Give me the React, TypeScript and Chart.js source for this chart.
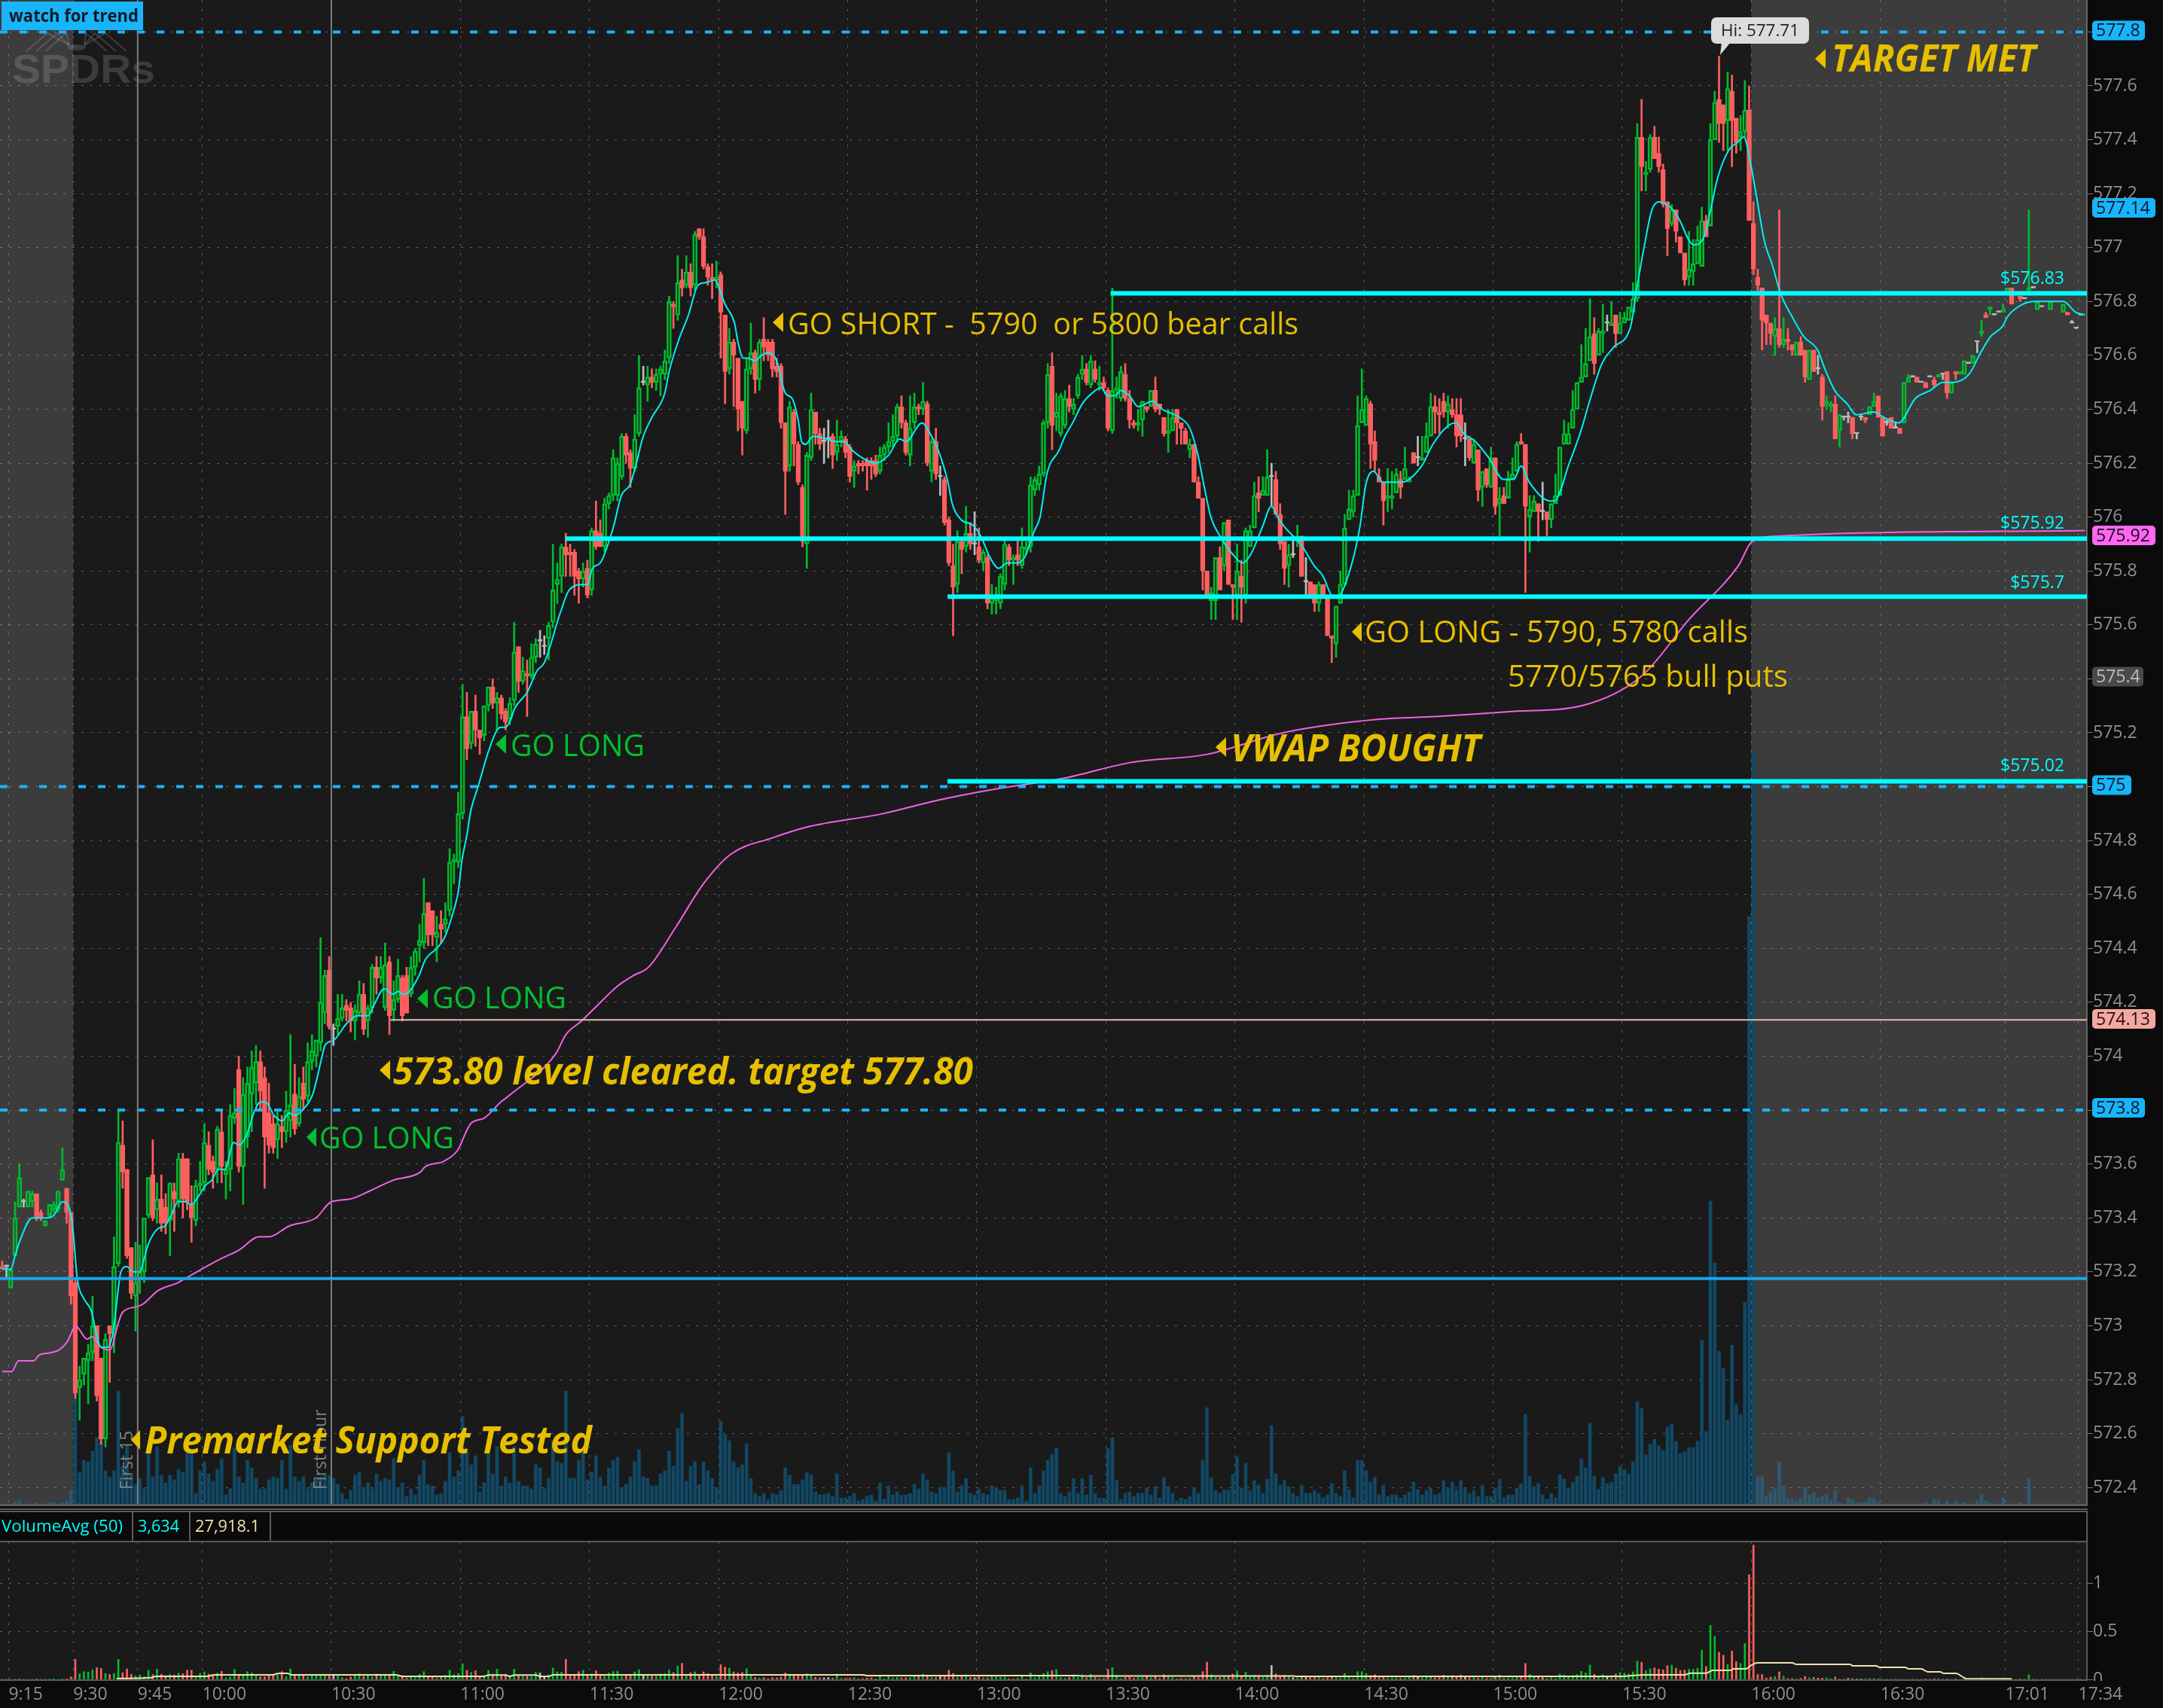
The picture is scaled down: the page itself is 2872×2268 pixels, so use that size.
import React, { useEffect, useRef } from "react";
import { Chart, registerables } from "chart.js";

Chart.register(...registerables);

// ---- data: one bar per minute, index 0 = first bar on the left ----
const opens = [
573.22,573.22,573.14,573.26,573.44,573.46,573.44,573.46,573.49,573.42,
573.37,573.41,573.43,573.43,573.54,573.51,573.42,573.16,572.77,572.82,
572.87,572.90,573.00,572.88,572.58,573.00,572.97,573.23,573.67,573.58,
573.29,573.11,573.17,573.20,573.41,573.56,573.43,573.47,573.44,573.39,
573.50,573.46,573.62,573.62,573.45,573.39,573.52,573.53,573.67,573.61,
573.58,573.72,573.56,573.58,573.77,573.95,573.59,573.70,573.86,573.90,
573.98,573.92,573.79,573.75,573.69,573.74,573.72,573.76,573.86,573.75,
573.90,573.85,573.98,574.00,574.05,574.16,574.32,574.10,574.11,574.14,
574.19,574.18,574.13,574.16,574.23,574.13,574.18,574.33,574.29,574.18,
574.35,574.17,574.21,574.29,574.30,574.23,574.33,574.41,574.42,574.57,
574.54,574.44,574.49,574.49,574.54,574.72,574.72,574.90,575.26,575.16,
575.28,575.21,575.19,575.30,575.37,575.31,575.33,575.28,575.25,575.32,
575.52,575.39,575.42,575.41,575.48,575.54,575.52,575.55,575.61,575.75,
575.78,575.89,575.87,575.87,575.80,575.77,575.81,575.73,575.95,575.94,
575.89,576.05,576.08,576.08,576.15,576.30,576.24,576.18,576.31,576.50,
576.49,576.52,576.50,576.53,576.53,576.59,576.79,576.75,576.88,576.86,
576.91,576.86,577.07,577.04,576.93,576.89,576.88,576.90,576.75,576.55,
576.65,576.59,576.43,576.32,576.55,576.61,576.51,576.66,576.65,576.65,
576.56,576.56,576.35,576.19,576.39,576.27,576.11,575.90,576.22,576.39,
576.31,576.28,576.29,576.30,576.24,576.28,576.29,576.26,576.17,576.20,
576.20,576.21,576.21,576.21,576.17,576.23,576.26,576.28,576.30,576.41,
576.35,576.23,576.35,576.41,576.40,576.42,576.17,576.28,576.15,576.14,
575.99,575.82,575.75,575.91,575.89,575.94,575.90,575.89,575.83,575.85,
575.68,575.69,575.68,575.75,575.89,575.84,575.86,575.82,575.88,575.89,
576.10,576.12,576.16,576.35,576.56,576.37,576.31,576.34,576.44,576.40,
576.45,576.53,576.55,576.49,576.55,576.49,576.50,576.47,576.32,576.47,
576.44,576.53,576.44,576.35,576.34,576.36,576.41,576.41,576.47,576.42,
576.37,576.31,576.32,576.40,576.35,576.32,576.25,576.27,576.13,576.07,
575.80,575.69,575.69,575.85,575.82,575.99,575.75,575.71,575.78,575.71,
575.89,575.96,576.09,576.08,576.08,576.15,576.14,576.01,575.91,575.82,
575.86,575.91,575.93,575.76,575.76,575.75,575.68,575.75,575.70,575.56,
575.53,575.68,575.75,575.99,576.02,576.08,576.35,576.34,576.42,576.28,
576.15,576.13,576.07,576.07,576.09,576.14,576.14,576.13,576.24,576.22,
576.21,576.24,576.30,576.41,576.39,576.43,576.39,576.40,576.38,576.38,
576.29,576.29,576.20,576.25,576.11,576.18,576.11,576.22,576.05,576.08,
576.07,576.14,576.17,576.28,576.27,576.00,576.02,576.05,576.02,576.02,
575.99,576.05,576.08,576.27,576.27,576.33,576.40,576.50,576.52,576.58,
576.68,576.60,576.68,576.72,576.71,576.75,576.68,576.72,576.73,576.76,
576.81,577.41,577.27,577.29,577.41,577.35,577.29,577.17,577.09,577.14,
577.04,576.98,576.89,576.91,576.94,576.93,577.10,577.08,577.40,577.55,
577.53,577.47,577.58,577.48,577.41,577.43,577.51,577.09,576.89,576.85,
576.75,576.72,576.67,576.70,576.64,576.66,576.64,576.60,576.65,576.62,
576.51,576.62,576.55,576.52,576.42,576.41,576.42,576.32,576.37,576.37,
576.37,576.31,576.37,576.37,576.38,576.41,576.45,576.37,576.35,576.37,
576.33,576.33,576.35,576.50,576.52,576.52,576.50,576.50,576.52,576.51,
576.52,576.53,576.54,576.46,576.54,576.53,576.53,576.57,576.57,576.65,
576.68,576.75,576.77,576.75,576.76,576.76,576.84,576.85,null,576.82,
576.81,576.84,576.85,576.77,576.78,null,576.77,null,null,576.76,
576.76,576.72,576.70,576.75,null];

const highs = [
573.24,573.22,573.21,573.46,573.60,573.47,573.50,573.50,573.49,573.43,
573.39,573.45,573.46,573.50,573.66,573.51,573.42,573.17,572.85,572.88,
572.93,573.11,573.00,572.88,572.97,573.00,573.33,573.80,573.76,573.58,
573.29,573.31,573.30,573.40,573.55,573.69,573.53,573.56,573.49,573.53,
573.53,573.64,573.64,573.62,573.52,573.54,573.61,573.75,573.72,573.63,
573.74,573.80,573.61,573.82,573.88,574.00,573.92,573.96,574.02,574.04,
574.02,573.96,573.90,573.78,573.80,573.78,573.87,574.08,573.97,573.92,
573.96,574.05,574.08,574.06,574.44,574.32,574.37,574.12,574.23,574.23,
574.21,574.20,574.19,574.28,574.27,574.19,574.34,574.37,574.37,574.42,
574.37,574.28,574.36,574.30,574.33,574.37,574.40,574.49,574.66,574.57,
574.54,574.52,574.54,574.57,574.77,574.75,574.98,575.38,575.35,575.28,
575.34,575.21,575.30,575.37,575.40,575.35,575.34,575.29,575.33,575.61,
575.52,575.48,575.47,575.53,575.55,575.58,575.56,575.61,575.90,575.83,
575.90,575.94,575.90,575.88,575.81,575.83,575.84,575.96,576.06,575.99,
576.07,576.09,576.25,576.22,576.31,576.31,576.25,576.38,576.60,576.56,
576.56,576.55,576.55,576.56,576.62,576.82,576.80,576.97,576.92,576.97,
576.94,577.06,577.07,577.07,576.94,576.94,576.95,576.91,576.75,576.70,
576.66,576.59,576.43,576.59,576.72,576.62,576.66,576.74,576.66,576.66,
576.59,576.57,576.35,576.43,576.40,576.28,576.12,576.24,576.46,576.39,
576.33,576.33,576.36,576.31,576.36,576.32,576.30,576.27,576.21,576.21,
576.21,576.22,576.22,576.23,576.26,576.27,576.35,576.38,576.42,576.45,
576.36,576.45,576.46,576.42,576.50,576.43,576.29,576.33,576.19,576.15,
576.00,575.90,575.95,575.92,576.04,575.98,576.02,575.96,575.88,575.86,
575.75,575.74,575.79,575.92,575.90,575.86,575.92,575.96,575.91,576.15,
576.15,576.19,576.36,576.57,576.61,576.46,576.46,576.47,576.49,576.44,
576.53,576.60,576.57,576.60,576.58,576.56,576.52,576.48,576.85,576.52,
576.56,576.57,576.47,576.36,576.40,576.43,576.41,576.47,576.52,576.42,
576.37,576.40,576.40,576.40,576.35,576.33,576.29,576.27,576.15,576.07,
575.80,575.74,575.85,575.89,575.98,575.99,575.75,575.90,575.84,575.96,
575.97,576.13,576.15,576.15,576.25,576.20,576.17,576.05,575.91,575.90,
575.93,575.97,575.93,575.85,575.76,575.75,575.76,575.75,575.70,575.56,
575.67,575.80,576.01,576.10,576.10,576.45,576.55,576.45,576.43,576.32,
576.18,576.13,576.18,576.17,576.18,576.17,576.26,576.15,576.24,576.30,
576.30,576.35,576.46,576.45,576.44,576.46,576.45,576.44,576.44,576.44,
576.35,576.30,576.29,576.25,576.17,576.18,576.26,576.22,576.11,576.11,
576.17,576.22,576.28,576.31,576.27,576.08,576.08,576.05,576.13,576.02,
576.05,576.16,576.26,576.36,576.35,576.47,576.50,576.64,576.70,576.81,
576.74,576.70,576.79,576.75,576.80,576.75,576.76,576.76,576.78,576.87,
577.46,577.55,577.32,577.42,577.45,577.41,577.31,577.17,577.16,577.14,
577.04,576.98,577.06,577.03,577.08,577.15,577.12,577.46,577.58,577.71,
577.53,577.65,577.64,577.48,577.49,577.62,577.60,577.17,576.92,576.85,
576.75,576.72,576.74,577.14,576.74,576.70,576.64,576.65,576.67,576.62,
576.62,576.62,576.60,576.53,576.45,576.43,576.45,576.38,576.37,576.39,
576.37,576.31,576.38,576.37,576.41,576.46,576.45,576.37,576.36,576.37,
576.35,576.33,576.50,576.53,576.52,576.52,576.50,576.50,576.52,576.52,
576.53,576.53,576.54,576.50,576.54,576.54,576.58,576.57,576.60,576.65,
576.73,576.76,576.78,576.75,576.76,576.79,576.85,576.85,null,576.82,
576.81,577.14,576.85,576.80,576.78,null,576.80,null,null,576.79,
576.76,576.73,576.70,576.75,null];

const lows = [
573.21,573.18,573.14,573.26,573.44,573.44,573.44,573.44,573.39,573.39,
573.37,573.40,573.42,573.42,573.54,573.38,573.08,572.73,572.65,572.78,
572.71,572.87,572.72,572.56,572.55,572.79,572.90,573.22,573.51,573.25,
573.10,572.98,573.12,573.16,573.40,573.39,573.38,573.35,573.34,573.26,
573.35,573.44,573.40,573.43,573.31,573.37,573.50,573.50,573.56,573.51,
573.53,573.53,573.47,573.50,573.75,573.57,573.45,573.66,573.72,573.82,
573.80,573.51,573.64,573.64,573.62,573.66,573.68,573.70,573.71,573.74,
573.80,573.83,573.95,573.96,574.02,574.12,574.10,574.04,574.08,574.13,
574.13,574.09,574.06,574.15,574.08,574.07,574.16,574.23,574.27,574.17,
574.08,574.13,574.20,574.13,574.16,574.22,574.30,574.35,574.40,574.41,
574.41,574.35,574.42,574.46,574.52,574.64,574.70,574.88,575.10,575.14,
575.15,575.12,575.17,575.28,575.29,575.21,575.25,575.21,575.23,575.30,
575.35,575.38,575.26,575.40,575.46,575.48,575.49,575.47,575.59,575.68,
575.72,575.78,575.78,575.71,575.68,575.74,575.70,575.71,575.88,575.89,
575.87,576.03,576.06,576.06,576.14,576.20,576.11,576.17,576.30,576.49,
576.43,576.48,576.47,576.45,576.51,576.57,576.70,576.73,576.82,576.85,
576.82,576.84,577.03,576.92,576.86,576.81,576.85,576.59,576.42,576.53,
576.41,576.32,576.23,576.31,576.53,576.46,576.47,576.58,576.58,576.52,
576.52,576.33,576.01,576.17,576.19,576.12,575.89,575.81,576.21,576.27,
576.25,576.20,576.22,576.18,576.21,576.26,576.22,576.13,576.11,576.16,
576.17,576.10,576.14,576.15,576.16,576.21,576.24,576.26,576.28,576.33,
576.23,576.19,576.33,576.38,576.38,576.19,576.13,576.14,576.08,575.97,
575.82,575.56,575.72,575.79,575.87,575.88,575.86,575.83,575.80,575.66,
575.64,575.64,575.66,575.73,575.82,575.75,575.82,575.81,575.86,575.87,
576.08,576.10,576.15,576.33,576.25,576.32,576.30,576.33,576.39,576.38,
576.44,576.51,576.49,576.48,576.50,576.47,576.47,576.32,576.31,576.44,
576.43,576.43,576.33,576.33,576.32,576.30,576.39,576.41,576.39,576.38,
576.30,576.24,576.32,576.27,576.27,576.27,576.22,576.13,576.07,575.73,
575.71,575.62,575.62,575.73,575.80,575.75,575.62,575.62,575.61,575.68,
575.89,575.96,576.02,576.08,576.08,576.04,576.01,575.88,575.75,575.74,
575.85,575.89,575.78,575.71,575.70,575.65,575.65,575.70,575.56,575.46,
575.48,575.68,575.75,575.99,576.00,576.08,576.35,576.34,576.18,576.17,
576.13,575.97,576.02,576.03,576.09,576.07,576.14,576.13,576.20,576.19,
576.21,576.24,576.30,576.31,576.31,576.37,576.33,576.37,576.26,576.28,
576.19,576.21,576.20,576.06,576.04,576.11,576.11,576.01,575.93,576.05,
576.07,576.14,576.17,576.27,575.72,575.87,576.02,575.91,575.99,575.93,
575.96,576.05,576.08,576.27,576.27,576.33,576.40,576.50,576.52,576.58,
576.53,576.60,576.61,576.69,576.71,576.63,576.68,576.72,576.73,576.76,
576.80,577.21,577.21,577.28,577.33,577.28,577.15,576.97,577.08,577.02,
576.98,576.86,576.86,576.86,576.94,576.93,577.04,577.08,577.40,577.39,
577.36,577.36,577.30,577.35,577.36,577.41,577.10,576.90,576.84,576.62,
576.64,576.64,576.60,576.63,576.63,576.62,576.60,576.60,576.60,576.50,
576.51,576.54,576.53,576.36,576.40,576.39,576.29,576.26,576.36,576.35,
576.29,576.29,576.36,576.35,576.38,576.41,576.37,576.30,576.34,576.33,
576.33,576.31,576.35,576.50,576.52,576.50,576.50,576.48,576.52,576.48,
576.52,576.51,576.44,576.46,576.51,576.53,576.53,576.57,576.57,576.61,
576.67,576.74,576.75,576.75,576.76,576.76,576.84,576.79,null,576.80,
576.81,576.84,576.85,576.77,576.78,null,576.77,null,null,576.76,
576.75,576.72,576.70,576.75,null];

const closes = [
573.21,573.22,573.21,573.40,573.55,573.46,573.50,573.49,573.40,573.40,
573.39,573.45,573.45,573.50,573.58,573.42,573.11,572.75,572.80,572.88,
572.90,573.00,572.74,572.58,572.95,572.97,573.22,573.68,573.57,573.26,
573.12,573.16,573.20,573.40,573.55,573.40,573.47,573.38,573.38,573.53,
573.47,573.62,573.47,573.46,573.40,573.52,573.53,573.68,573.58,573.57,
573.73,573.59,573.58,573.78,573.79,573.59,573.86,573.90,573.96,573.98,
573.87,573.70,573.67,573.66,573.75,573.72,573.80,573.82,573.73,573.85,
573.84,573.98,574.02,574.06,574.20,574.30,574.11,574.10,574.14,574.18,
574.17,574.13,574.17,574.23,574.10,574.18,574.33,574.29,574.33,574.34,
574.15,574.21,574.30,574.15,574.16,574.33,574.39,574.43,574.53,574.45,
574.45,574.46,574.47,574.51,574.72,574.73,574.90,575.26,575.14,575.28,
575.21,575.18,575.30,575.37,575.31,575.33,575.27,575.24,575.31,575.50,
575.39,575.43,575.41,575.48,575.53,575.54,575.52,575.60,575.73,575.77,
575.89,575.86,575.86,575.78,575.77,575.80,575.71,575.95,575.89,575.89,
576.05,576.08,576.22,576.20,576.30,576.23,576.18,576.29,576.48,576.50,
576.52,576.50,576.53,576.55,576.58,576.80,576.78,576.87,576.85,576.91,
576.85,577.05,577.04,576.93,576.89,576.88,576.89,576.76,576.54,576.65,
576.60,576.40,576.33,576.55,576.61,576.51,576.65,576.63,576.60,576.55,
576.54,576.35,576.17,576.41,576.27,576.13,575.91,576.23,576.40,576.31,
576.27,576.28,576.29,576.23,576.27,576.30,576.24,576.15,576.19,576.19,
576.19,576.19,576.19,576.16,576.23,576.26,576.28,576.30,576.41,576.35,
576.24,576.33,576.41,576.40,576.43,576.20,576.28,576.16,576.15,575.98,
575.83,575.74,575.91,575.88,575.94,575.90,575.90,575.84,575.87,575.68,
575.70,575.70,575.78,575.90,575.84,575.85,575.84,575.89,575.89,576.12,
576.14,576.16,576.35,576.53,576.34,576.39,576.45,576.44,576.41,576.42,
576.52,576.55,576.50,576.58,576.51,576.50,576.48,576.33,576.47,576.48,
576.54,576.44,576.36,576.34,576.35,576.43,576.40,576.47,576.40,576.40,
576.31,576.32,576.37,576.35,576.33,576.27,576.27,576.13,576.07,575.80,
575.71,575.72,575.85,575.73,575.98,575.75,575.74,575.80,575.74,575.95,
575.95,576.08,576.07,576.10,576.15,576.15,576.01,575.90,575.81,575.86,
575.86,575.93,575.78,575.76,575.70,575.68,575.75,575.70,575.56,575.55,
575.67,575.75,575.96,576.03,576.08,576.34,576.40,576.44,576.27,576.21,
576.13,576.06,576.08,576.08,576.16,576.11,576.18,576.14,576.20,576.22,
576.22,576.30,576.41,576.39,576.38,576.39,576.42,576.38,576.30,576.30,
576.29,576.22,576.27,576.10,576.17,576.12,576.22,576.04,576.07,576.05,
576.14,576.16,576.27,576.27,576.04,576.03,576.06,576.02,576.02,575.99,
576.05,576.08,576.26,576.31,576.31,576.40,576.50,576.52,576.57,576.67,
576.57,576.69,576.69,576.72,576.72,576.68,576.72,576.74,576.78,576.81,
577.41,577.30,577.28,577.41,577.33,577.30,577.16,577.07,577.14,577.06,
576.98,576.88,576.92,576.94,577.03,577.10,577.04,577.40,577.54,577.46,
577.46,577.59,577.47,577.39,577.43,577.51,577.10,576.92,576.86,576.73,
576.72,576.68,576.70,576.64,576.66,576.65,576.62,576.65,576.60,576.52,
576.62,576.54,576.55,576.41,576.43,576.42,576.29,576.38,576.37,576.37,
576.31,576.31,576.37,576.36,576.41,576.43,576.37,576.30,576.35,576.33,
576.33,576.31,576.50,576.52,576.52,576.50,576.50,576.48,576.52,576.49,
576.53,576.53,576.46,576.50,576.53,576.54,576.58,576.57,576.60,576.65,
576.69,576.74,576.78,576.75,576.76,576.77,576.85,576.79,null,576.81,
576.81,576.85,576.85,576.80,576.78,null,576.80,null,null,576.79,
576.75,576.72,576.70,576.75,null];

// volume per bar in lots of 1,393 shares
const SHARES_PER_LOT = 1393;
const volumeLots = [
0,0,0,3,5,0,0,0,2,0,0,2,2,0,2,4,18,150,42,58,
56,70,88,82,44,36,44,150,50,78,38,26,34,20,68,36,76,38,28,38,
32,46,42,68,68,14,44,56,40,30,46,60,12,20,74,36,28,58,48,34,
20,20,32,36,34,58,20,78,36,30,36,20,28,36,36,38,38,34,26,14,
6,18,38,42,22,28,20,40,30,34,32,60,22,28,10,20,12,38,58,26,
24,12,14,30,68,36,44,116,68,52,64,16,28,66,40,76,24,36,28,76,
30,24,24,20,52,48,20,34,84,56,54,150,34,34,58,68,32,42,64,36,
24,48,58,62,22,26,36,56,72,36,34,24,24,40,44,70,50,100,120,30,
50,56,26,56,44,34,22,110,92,84,56,48,52,80,34,14,10,14,6,14,
12,18,48,38,26,26,32,42,38,16,12,12,14,10,40,8,8,10,14,4,
6,10,12,4,28,6,24,12,16,12,12,14,26,20,40,32,16,14,22,22,
68,44,16,24,34,14,12,20,14,12,24,22,18,18,6,6,8,24,4,48,
14,24,44,58,66,74,14,10,16,34,14,34,12,38,14,8,8,74,88,31,
6,14,16,10,14,14,21,12,23,8,35,23,14,4,8,6,10,21,14,58,
128,35,18,14,19,19,39,63,21,54,18,31,25,14,33,104,40,25,31,23,
14,10,25,14,14,18,14,8,12,27,14,10,44,19,8,58,58,44,29,35,
12,25,10,12,12,8,12,16,29,19,12,18,21,12,14,31,21,29,19,31,
21,14,18,10,25,10,10,21,33,8,12,12,21,27,119,37,23,27,12,6,
14,8,39,33,21,29,37,60,48,107,37,19,35,27,29,40,50,46,40,56,
136,127,65,79,86,77,71,102,106,83,67,69,75,75,83,217,96,402,320,203,
180,111,211,132,119,268,780,1000,36,36,11,16,20,56,24,7,7,4,8,22,
12,15,8,10,12,5,18,2,0,8,6,2,2,3,8,7,2,0,0,0,
0,0,0,0,0,0,0,2,0,6,5,0,4,0,4,0,2,0,0,4,
12,4,2,0,0,8,0,0,0,2,0,34,0,0,0,0,0,0,0,0,
0,0,0,0,0];

// moving average
const emaBars = [0,2,3,4,7,10,12,14,15.5,16.3,17.5,19,20.6,23,24.5,25.7,26.5,27.6,29,30.4,32,33,33.9,36.2,37.8,39.3,40.9,42.5,44,45.6,47.2,48.7,50.3,51.8,53.8,55,56.9,58.5,60,61.2,63.2,65.1,66.7,67.9,69.8,72.2,74.5,75,77.1,80,82.6,85,86.4,88.8,90.8,92.1,93.1,94.6,96.9,98.4,101,102.8,105.1,106,106.8,108,108.9,110.6,113,115,115.9,117,118.2,119.1,122,124.3,126,129.6,131.8,135,136,137.2,139,142,143.9,145.9,147.4,148.8,151,154,155,157.3,159.5,161.7,163.5,165.8,166.6,168,170.2,171,172.2,173.3,175,176.5,178,180,182,183.6,185,185.8,186.7,188.5,191.6,193.9,195.7,197.4,201,203,206,208.6,210,213.8,215.3,217.5,219.8,220.8,222.9,225.6,227.4,229.6,231.6,233.6,235.8,237.6,239.9,241.2,242.8,245.7,247,248.8,251,253.3,255.5,256.8,258.6,260,262,264,267.4,269.6,273.6,276,277.9,279.4,280.9,283,286.1,288.3,290.1,292.8,295,296.4,298.2,300,302.2,304.9,307,308.9,310.2,311.6,314.2,315.6,316.9,318.7,320.9,323.2,325.4,329.9,332.5,336.1,337.9,339.7,342.4,345.5,348.9,351.3,353,354.9,359.8,360.7,364.2,366.9,369.1,371.8,374.5,378.5,379.7,381.8,383.4,385,386.7,388.3,389.9,391.9,393.1,395.5,396.9,398.7,401.2,403.2,404.8,406,407.6,409.6,411.3,413.3,416.1,418.7,421.9,423.6,425.9,428.8,430.9,435,437.3,440.8,444.6,448.1,451,453.3,457.1,459.8,462.1,465,465.9,468.5,472.3,479,481.9,484];
const emaPrices = [573.21,573.21,573.26,573.31,573.40,573.40,573.41,573.46,573.44,573.38,573.17,573.10,573.06,572.92,572.92,572.97,573.07,573.20,573.22,573.20,573.20,573.25,573.30,573.36,573.37,573.41,573.46,573.46,573.45,573.48,573.52,573.54,573.58,573.58,573.68,573.67,573.71,573.79,573.83,573.83,573.78,573.76,573.79,573.78,573.80,573.86,574.01,574.04,574.06,574.12,574.15,574.15,574.19,574.25,574.23,574.24,574.23,574.24,574.30,574.36,574.40,574.44,574.55,574.61,574.72,574.82,574.91,575.00,575.13,575.21,575.22,575.22,575.25,575.29,575.35,575.43,575.46,575.64,575.73,575.75,575.75,575.81,575.83,575.96,576.08,576.12,576.20,576.29,576.37,576.46,576.54,576.66,576.75,576.86,576.87,576.88,576.85,576.79,576.72,576.65,576.59,576.59,576.58,576.60,576.61,576.58,576.46,576.44,576.36,576.28,576.27,576.30,576.29,576.28,576.28,576.25,576.21,576.20,576.23,576.29,576.28,576.35,576.32,576.25,576.13,576.05,575.99,575.97,575.93,575.85,575.81,575.83,575.83,575.85,575.95,576.00,576.16,576.25,576.30,576.35,576.42,576.46,576.48,576.45,576.45,576.47,576.45,576.41,576.43,576.40,576.37,576.33,576.23,576.11,576.00,575.93,575.86,575.83,575.86,575.96,576.04,576.00,575.96,575.93,575.89,575.82,575.78,575.71,575.70,575.73,575.86,575.97,576.12,576.17,576.13,576.13,576.13,576.19,576.27,576.34,576.35,576.31,576.28,576.22,576.14,576.14,576.19,576.13,576.06,576.06,576.20,576.32,576.44,576.57,576.63,576.71,576.83,577.02,577.14,577.17,577.16,577.14,577.10,577.03,577.01,577.04,577.13,577.26,577.36,577.39,577.41,577.34,577.20,577.02,576.94,576.83,576.74,576.67,576.62,576.55,576.47,576.42,576.38,576.39,576.37,576.35,576.44,576.47,576.50,576.50,576.53,576.61,576.67,576.71,576.74,576.78,576.80,576.80,576.76,576.75];

// VWAP
const vwapBars = [0,2.2,3.8,7.3,8.5,11.2,13.2,15.1,16,17,19.8,20.8,23,24.9,25.7,26.8,28,31.1,32.7,36.2,40.9,43.1,47.5,51,55,59.7,62,66.7,72.9,76.5,80.8,85.4,90.9,97.2,98.3,102.6,105.8,108.9,112,115.9,118.3,128.7,131,134.6,137.8,143,146.8,150.2,156.6,163,169.4,179,187,204.7,217.5,230.3,246.4,262.4,280,297.7,320,333,352,367,381,392,403.5,406.7,413,484];
const vwapPrices = [572.83,572.83,572.87,572.87,572.89,572.90,572.91,572.94,572.97,573.00,572.95,572.96,572.92,572.91,572.93,573.00,573.05,573.07,573.08,573.13,573.16,573.18,573.22,573.25,573.28,573.33,573.33,573.37,573.40,573.46,573.47,573.50,573.54,573.57,573.59,573.61,573.65,573.75,573.77,573.83,573.86,574.01,574.08,574.13,574.18,574.26,574.30,574.33,574.48,574.64,574.75,574.81,574.85,574.90,574.95,574.99,575.03,575.09,575.12,575.20,575.25,575.26,575.28,575.30,575.41,575.62,575.82,575.91,575.93,575.95];

// 50-bar volume average, lower pane
const volAvgBars = [26.6,34.7,35.7,47.7,49.2,62.8,64.3,66.3,67.3,91.5,93,112,113,117,118,119,124,125,127,128,200,201,250,251,300,301,375.8,381.8,391,392.3,396,397.5,401.6,402.4,405.2,406.8,408,416,417,429.4,430.2,435.5,436.3,442.3,443,446,447.5,450.4,451.2,454,456.7,467];
const volAvgValues = [0.01,0.018,0.031,0.031,0.047,0.047,0.062,0.062,0.047,0.047,0.031,0.031,0.044,0.044,0.031,0.044,0.044,0.031,0.031,0.047,0.047,0.04,0.04,0.035,0.035,0.031,0.031,0.047,0.047,0.065,0.065,0.094,0.094,0.109,0.109,0.156,0.172,0.172,0.156,0.156,0.14,0.14,0.125,0.125,0.109,0.109,0.078,0.078,0.062,0.062,0.005,0.005];

const priceTicks = [572.4,572.6,572.8,573,573.2,573.4,573.6,573.8,574,574.2,574.4,574.6,574.8,575,575.2,575.4,575.6,575.8,576,576.2,576.4,576.6,576.8,577,577.2,577.4,577.6,577.8];
const ratioTicks = [0,0.5,1];
const timeTickBars = [2,17,32,47,77,107,137,167,197,227,257,287,317,347,377,407,437,466,483];
const timeTickLabels = ["9:15","9:30","9:45","10:00","10:30","11:00","11:30","12:00","12:30","13:00","13:30","14:00","14:30","15:00","15:30","16:00","16:30","17:01","17:34"];

const levelPrices = [577.8,575,573.8,573.175,576.83,575.92,575.705,575.02,574.135];
const levelStartBars = [-0.5,-0.5,-0.5,-0.5,257.6,130.9,219.7,219.7,90.2];

const FIRST_BAR = -0.5;
const LAST_BAR = 484.5;
const SESSION_OPEN_BAR = 16.5;
const SESSION_CLOSE_BAR = 406.5;
const firstFifteenBar = 31.5;
const firstHourBar = 76.5;

// ---- styling ----
const UP = "#00bb2e";
const DOWN = "#ff5f5f";
const DOJI = "#bdbdbd";
const BLUE = "#19b4fa";
const CYAN = "#00ffff";
const YELLOW = "#e6bf00";
const NOTE_GREEN = "#00c030";
const GRID = "#5f5f5f";
const TICK_TEXT = "#8f8f8f";
const AXIS = "#5a5a5a";
const SANS = '"Open Sans"';
const PLOT_RIGHT_WIDTH = 101;

const candleColor = (i: number) =>
  closes[i] > opens[i] ? UP : closes[i] < opens[i] ? DOWN : DOJI;
const valid = (i: number) => opens[i] != null;
const barIndexes = opens.map((_, i) => i).filter(valid);

const noPadding = (s: any) => {
  s.paddingTop = 0;
  s.paddingBottom = 0;
  s.paddingLeft = 0;
  s.paddingRight = 0;
};

const timeScale = (showLabels: boolean, height: number) => ({
  type: "linear",
  min: FIRST_BAR,
  max: LAST_BAR,
  offset: false,
  afterBuildTicks: (s: any) => {
    s.ticks = timeTickBars.map((k) => ({ value: k - 0.5 }));
  },
  afterFit: (s: any) => {
    s.height = height;
    noPadding(s);
  },
  border: { display: false, dash: [3, 9] },
  grid: { offset: false, color: GRID, lineWidth: 1, drawTicks: false },
  ticks: {
    display: showLabels,
    autoSkip: false,
    maxRotation: 0,
    minRotation: 0,
    align: "start",
    padding: 7,
    color: TICK_TEXT,
    font: { family: SANS, size: 23 },
    callback: (v: number) => timeTickLabels[timeTickBars.indexOf(v + 0.5)] ?? "",
  },
});

const fitText = (
  ctx: CanvasRenderingContext2D,
  text: string,
  x: number,
  y: number,
  width: number,
  font: string,
  color: string
) => {
  ctx.save();
  ctx.font = font;
  ctx.fillStyle = color;
  ctx.textAlign = "left";
  ctx.textBaseline = "alphabetic";
  const w = ctx.measureText(text).width;
  ctx.translate(x, y);
  ctx.scale(width / w, 1);
  ctx.fillText(text, 0, 0);
  ctx.restore();
};

const marker = (ctx: CanvasRenderingContext2D, x0: number, x1: number, cy: number, half: number, color: string) => {
  ctx.fillStyle = color;
  ctx.beginPath();
  ctx.moveTo(x1, cy - half);
  ctx.lineTo(x1, cy + half);
  ctx.lineTo(x0, cy);
  ctx.closePath();
  ctx.fill();
};

const tag = (ctx: CanvasRenderingContext2D, text: string, x: number, cy: number, w: number, bg: string, fg: string) => {
  ctx.fillStyle = bg;
  ctx.beginPath();
  (ctx as any).roundRect(x, cy - 13, w, 26, 5);
  ctx.fill();
  ctx.fillStyle = fg;
  ctx.font = `23px ${SANS}`;
  ctx.textAlign = "left";
  ctx.textBaseline = "middle";
  ctx.fillText(text, x + 5, cy + 1);
};

const BOLD = `italic 700 51px ${SANS}`;
const REG = `400 41px ${SANS}`;
const notes: [string, number, number, number, string, string, number, number, number][] = [
  ["Premarket Support Tested", 192, 1930, 594, BOLD, YELLOW, 174, 186, 1912],
  ["573.80 level cleared. target 577.80", 522, 1440, 770, BOLD, YELLOW, 504, 518, 1421],
  ["TARGET MET", 2432, 95, 271, BOLD, YELLOW, 2410, 2424, 78],
  ["VWAP BOUGHT", 1634, 1011, 332, BOLD, YELLOW, 1614, 1628, 992],
  ["GO SHORT -  5790  or 5800 bear calls", 1046, 444, 678, REG, YELLOW, 1026, 1040, 428],
  ["GO LONG - 5790, 5780 calls", 1812, 853, 509, REG, YELLOW, 1795, 1808, 839],
  ["5770/5765 bull puts", 2002, 912, 372, REG, YELLOW, 0, 0, 0],
  ["GO LONG", 678, 1004, 178, REG, NOTE_GREEN, 658, 672, 988],
  ["GO LONG", 574, 1339, 178, REG, NOTE_GREEN, 554, 568, 1326],
  ["GO LONG", 424, 1525, 179, REG, NOTE_GREEN, 407, 420, 1510],
];

const overlayMain = {
  id: "overlayMain",
  beforeDatasetsDraw(chart: any) {
    const { ctx, chartArea: a, scales } = chart;
    ctx.save();
    ctx.fillStyle = "rgba(255,255,255,0.15)";
    const xOpen = scales.x.getPixelForValue(SESSION_OPEN_BAR);
    const xClose = scales.x.getPixelForValue(SESSION_CLOSE_BAR);
    ctx.fillRect(a.left, a.top, xOpen - a.left, a.bottom - a.top);
    ctx.fillRect(xClose, a.top, a.right - xClose, a.bottom - a.top);
    // watermark
    ctx.globalAlpha = 0.15;
    ctx.fillStyle = "#ffffff";
    ctx.strokeStyle = "#ffffff";
    ctx.lineWidth = 2;
    fitText(ctx, "SPDRs", 16, 110, 190, `700 54px "Liberation Sans"`, "#ffffff");
    ctx.beginPath();
    ctx.ellipse(102, 63, 12, 4, 0, 0, Math.PI * 2);
    ctx.fill();
    for (const [x1, x2] of [[35, 66], [48, 72], [60, 78], [168, 138], [154, 132], [142, 126]]) {
      const mx = x1 < 100 ? x1 + 28 : x1 - 28;
      ctx.beginPath();
      ctx.moveTo(x1, 68);
      ctx.lineTo(mx, 44);
      ctx.lineTo(x2 < 100 ? 92 : 112, 60);
      ctx.stroke();
    }
    ctx.restore();
  },
  afterDraw(chart: any) {
    const { ctx, chartArea: a, scales } = chart;
    ctx.save();
    // session event lines
    ctx.strokeStyle = "#7d7d7d";
    ctx.lineWidth = 2;
    [firstFifteenBar, firstHourBar].forEach((b) => {
      const x = scales.x.getPixelForValue(b);
      ctx.beginPath();
      ctx.moveTo(x, a.top);
      ctx.lineTo(x, a.bottom);
      ctx.stroke();
    });
    ctx.fillStyle = "#808080";
    ctx.font = `23px ${SANS}`;
    ctx.textBaseline = "alphabetic";
    ctx.textAlign = "left";
    [["First 15", firstFifteenBar], ["First Hour", firstHourBar]].forEach(([t, b]: any) => {
      ctx.save();
      ctx.translate(scales.x.getPixelForValue(b) - 7, 1978);
      ctx.rotate(-Math.PI / 2);
      ctx.fillText(t, 0, 0);
      ctx.restore();
    });

    // annotations
    notes.forEach(([t, x, y, w, f, c, m0, m1, my]) => {
      if (m1 > 0) marker(ctx, m0, m1, my, 13, c);
      fitText(ctx, t, x, y, w, f, c);
    });

    // price bubbles over the lines
    ctx.fillStyle = CYAN;
    ctx.font = `23px ${SANS}`;
    ctx.textAlign = "right";
    ctx.textBaseline = "alphabetic";
    [["$576.83", 576.83], ["$575.92", 575.92], ["$575.7", 575.7], ["$575.02", 575.02]].forEach(([t, p]: any) => {
      ctx.fillText(t, 2741, scales.y.getPixelForValue(p) - 13);
    });

    // top-left study tag
    ctx.fillStyle = BLUE;
    ctx.fillRect(2, 2, 188, 38);
    fitText(ctx, "watch for trend", 12, 29, 172, `700 23px ${SANS}`, "#0f1a22");

    // session high callout
    ctx.fillStyle = "#dcdcdc";
    ctx.beginPath();
    (ctx as any).roundRect(2272, 23, 130, 35, 7);
    ctx.fill();
    ctx.beginPath();
    ctx.moveTo(2286, 56);
    ctx.lineTo(2298, 56);
    ctx.lineTo(2284, 73);
    ctx.closePath();
    ctx.fill();
    fitText(ctx, "Hi: 577.71", 2285, 48, 104, `400 22px ${SANS}`, "#222222");

    // right-axis tags
    const Y = (p: number) => scales.y.getPixelForValue(p);
    const ax = a.right + 7;
    tag(ctx, "577.8", ax, Y(577.8) - 2, 70, BLUE, "#0b1a24");
    tag(ctx, "577.14", ax, 276, 84, BLUE, "#0b1a24");
    tag(ctx, "575.92", ax, 711, 84, "#ff66f2", "#16101a");
    tag(ctx, "575.4", ax, Y(575.4) - 3, 68, "#4a4a4a", "#bdbdbd");
    tag(ctx, "575", ax, Y(575) - 2, 52, BLUE, "#0b1a24");
    tag(ctx, "574.13", ax, 1353, 84, "#f4a8a0", "#201010");
    tag(ctx, "573.8", ax, 1471, 70, BLUE, "#0b1a24");

    // pane border along the bottom
    ctx.fillStyle = AXIS;
    ctx.fillRect(0, a.bottom, a.right + 1, 3);
    ctx.restore();
  },
};

const overlayLower = {
  id: "overlayLower",
  afterDraw(chart: any) {
    const { ctx, chartArea: a } = chart;
    ctx.save();
    // hide lower part of the bottom tick label, like a clipped axis
    ctx.fillStyle = "#0b0b0b";
    ctx.fillRect(a.right + 2, a.bottom + 2, 101, 8);
    ctx.fillStyle = AXIS;
    ctx.fillRect(0, a.bottom, a.right + 1, 2);
    // header strip
    const top = 7;
    const bot = 47;
    ctx.fillStyle = "#0a0a0a";
    ctx.fillRect(0, top, a.right, bot - top);
    ctx.fillStyle = AXIS;
    ctx.fillRect(0, 3, a.right + 1, 2);
    ctx.fillRect(0, top - 1, a.right + 1, 2);
    ctx.fillRect(0, bot - 1, a.right + 1, 2);
    ctx.fillRect(a.right - 1, top, 2, bot - top);
    [175, 251, 358].forEach((x) => ctx.fillRect(x, top, 2, bot - top));
    ctx.font = `22px ${SANS}`;
    fitText(ctx, "VolumeAvg (50)", 2, 34, 161, `400 22px ${SANS}`, CYAN);
    fitText(ctx, "3,634", 183, 34, 55, `400 22px ${SANS}`, CYAN);
    fitText(ctx, "27,918.1", 259, 34, 86, `400 22px ${SANS}`, "#efe0ae");
    ctx.restore();
  },
};

export default function App() {
  const mainRef = useRef<HTMLCanvasElement>(null);
  const lowerRef = useRef<HTMLCanvasElement>(null);

  useEffect(() => {
    const commonBar = { type: "bar", grouped: false, borderSkipped: false };

    const volumeData = volumeLots.map((v, i) => ({ x: i, y: v }));
    const lowerWick = barIndexes.map((i) => ({ x: i, y: [lows[i], Math.min(opens[i], closes[i])] }));
    const upperWick = barIndexes.map((i) => ({ x: i, y: [Math.max(opens[i], closes[i]), highs[i]] }));
    const bodies = barIndexes.map((i) => ({ x: i, y: [Math.min(opens[i], closes[i]), Math.max(opens[i], closes[i])] }));
    const wickColors = barIndexes.map(candleColor);
    const bodyFill = barIndexes.map((i) => {
      const c = candleColor(i);
      return c === UP ? "rgba(0,0,0,0)" : c;
    });
    const line = (bars: number[], values: number[], color: string, width: number, order: number, axis = "y") => ({
      type: "line",
      data: bars.map((x, i) => ({ x, y: values[i] })),
      borderColor: color,
      borderWidth: width,
      pointRadius: 0,
      cubicInterpolationMode: "monotone",
      order,
      yAxisID: axis,
    });

    const levelStyles: [string, number, number[]][] = [
      [BLUE, 4, [10, 16]],
      [BLUE, 4, [10, 16]],
      [BLUE, 4, [10, 16]],
      ["#19a6ea", 4, []],
      [CYAN, 6, []],
      [CYAN, 6, []],
      [CYAN, 6, []],
      [CYAN, 6, []],
      ["#e6b8b0", 2, []],
    ];

    const yScale = (ticksList: number[], min: number, max: number) => ({
      position: "right",
      min,
      max,
      afterBuildTicks: (s: any) => {
        s.ticks = ticksList.map((value) => ({ value }));
      },
      afterFit: (s: any) => {
        s.width = PLOT_RIGHT_WIDTH;
        noPadding(s);
      },
      border: { color: AXIS, width: 2, dash: [3, 9] },
      grid: { color: GRID, tickColor: "#777777", tickBorderDash: [], tickLength: 8 },
      ticks: {
        autoSkip: false,
        padding: 0,
        color: TICK_TEXT,
        font: { family: SANS, size: 23 },
        callback: (v: number) => String(v),
      },
    });

    const main = new Chart(mainRef.current!, {
      type: "bar",
      data: {
        datasets: [
          {
            ...commonBar,
            data: volumeData,
            yAxisID: "v",
            barThickness: 4,
            backgroundColor: volumeLots.map((_, i) =>
              i < 17 || i > 407 ? "#2f5870" : "#114865"
            ),
            order: 50,
          },
          { ...commonBar, data: lowerWick, barThickness: 2, backgroundColor: wickColors, order: 30 },
          { ...commonBar, data: upperWick, barThickness: 2, backgroundColor: wickColors, order: 30 },
          {
            ...commonBar,
            data: bodies,
            barThickness: 6,
            minBarLength: 2,
            backgroundColor: bodyFill,
            borderColor: wickColors,
            borderWidth: 2,
            order: 29,
          },
          line(vwapBars, vwapPrices, "#f062e4", 2, 20),
          line(emaBars, emaPrices, "#00f2f2", 2, 10),
          ...levelPrices.map((p, i) => ({
            type: "line",
            data: [
              { x: levelStartBars[i], y: p },
              { x: LAST_BAR, y: p },
            ],
            borderColor: levelStyles[i][0],
            borderWidth: levelStyles[i][1],
            borderDash: levelStyles[i][2],
            pointRadius: 0,
            order: 5,
            yAxisID: "y",
          })),
        ],
      },
      options: {
        responsive: false,
        animation: false,
        devicePixelRatio: 1,
        events: [],
        layout: { autoPadding: false, padding: { left: 0, top: 0, right: 0, bottom: 3 } },
        plugins: { legend: { display: false }, tooltip: { enabled: false } },
        scales: {
          x: timeScale(false, 0),
          y: yScale(priceTicks, 572.339, 577.9185),
          v: { display: false, min: 0, max: 1997 },
        },
      } as any,
      plugins: [overlayMain],
    } as any);

    const lower = new Chart(lowerRef.current!, {
      type: "bar",
      data: {
        datasets: [
          {
            ...commonBar,
            data: volumeLots.map((v, i) => ({ x: i, y: (v * SHARES_PER_LOT) / 1e6 })),
            barThickness: 2,
            backgroundColor: volumeLots.map((_, i) => (valid(i) ? candleColor(i) : UP)),
            order: 5,
          },
          line(volAvgBars, volAvgValues, "#efe3ab", 2, 1),
        ],
      },
      options: {
        responsive: false,
        animation: false,
        devicePixelRatio: 1,
        events: [],
        layout: { autoPadding: false, padding: { left: 0, top: 47, right: 0, bottom: 0 } },
        plugins: { legend: { display: false }, tooltip: { enabled: false } },
        scales: {
          x: timeScale(true, 38),
          y: yScale(ratioTicks, 0, 1.43),
        },
      } as any,
      plugins: [overlayLower],
    } as any);

    return () => {
      main.destroy();
      lower.destroy();
    };
  }, []);

  return (
    <div style={{ position: "absolute", left: 0, top: 0, width: 2872, height: 2268, background: "#0b0b0b", overflow: "hidden" }}>
      <div style={{ position: "absolute", left: 0, top: 0, width: 2771, height: 1997, background: "#1a1a1a" }} />
      <div style={{ position: "absolute", left: 0, top: 2047, width: 2771, height: 183, background: "#1a1a1a" }} />
      <canvas ref={mainRef} width={2872} height={2000} style={{ position: "absolute", left: 0, top: 0 }} />
      <canvas ref={lowerRef} width={2872} height={268} style={{ position: "absolute", left: 0, top: 2000 }} />
    </div>
  );
}
